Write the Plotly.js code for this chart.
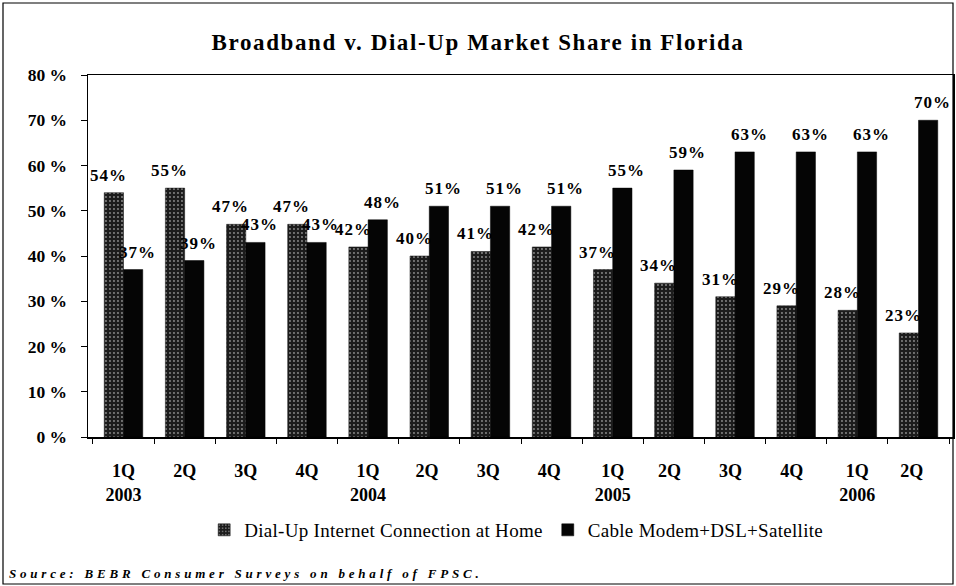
<!DOCTYPE html>
<html>
<head>
<meta charset="utf-8">
<script src="https://cdn.plot.ly/plotly-3.0.1.min.js"></script>
<style>
  html, body { margin: 0; padding: 0; background: #fff; }
  #chart { width: 956px; height: 586px; }
</style>
</head>
<body>
<div id="chart"></div>
<script>
// ---- data ----
const quarters = ["1Q<br>2003", "2Q", "3Q", "4Q", "1Q<br>2004", "2Q ", "3Q ", "4Q ", "1Q<br>2005", "2Q  ", "3Q  ", "4Q  ", "1Q<br>2006", "2Q   "];
const dialUp = [54, 55, 47, 47, 42, 40, 41, 42, 37, 34, 31, 29, 28, 23];
const broadband = [37, 39, 43, 43, 48, 51, 51, 51, 55, 59, 63, 63, 63, 70];
const seriesNames = ["Dial-Up Internet Connection at Home", "Cable Modem+DSL+Satellite"];
const titleText = "Broadband v. Dial-Up Market Share in Florida";
const sourceText = "Source: BEBR Consumer Surveys on behalf of FPSC.";

const SERIF = "Liberation Serif, DejaVu Serif, serif";
const spaced = (s, px) => '<span style="letter-spacing:' + px + 'px">' + s + '</span>';

const traces = [
  {
    type: "bar", name: spaced(seriesNames[0], 0.3), x: quarters, y: dialUp,
    marker: {
      color: "#222",
      line: { color: "#111", width: 0.5 },
      pattern: { shape: ".", bgcolor: "#1c1c1c", fgcolor: "#8c8c8c", size: 4, solidity: 0.18 }
    },
    hoverinfo: "y"
  },
  {
    type: "bar", name: spaced(seriesNames[1], 0.3), x: quarters, y: broadband,
    marker: { color: "#050505", line: { color: "#000", width: 0.5 } },
    hoverinfo: "y"
  }
];

// data labels as annotations built from the arrays
const annotations = [];
dialUp.forEach((v, i) => annotations.push({
  x: i, y: v, xref: "x", yref: "y", text: spaced(v + "%", 1), showarrow: false,
  xanchor: "center", yanchor: "bottom", xshift: -15, yshift: 6,
  font: { family: SERIF, size: 17, color: "#000", weight: "bold" }
}));
broadband.forEach((v, i) => annotations.push({
  x: i, y: v, xref: "x", yref: "y", text: spaced(v + "%", 1), showarrow: false,
  xanchor: "center", yanchor: "bottom", xshift: 14, yshift: 6,
  font: { family: SERIF, size: 17, color: "#000", weight: "bold" }
}));
annotations.push({
  xref: "paper", yref: "paper", x: (7 - 88) / 865, y: (437 - 573) / 362,
  xanchor: "left", yanchor: "middle", showarrow: false,
  text: spaced(sourceText, 3.8),
  font: { family: SERIF, size: 13, color: "#000", weight: "bold", style: "italic" }
});

const px = x => (x - 88) / 865;
const py = y => (437 - y) / 362;

const layout = {
  width: 956, height: 586,
  margin: { l: 88, r: 3, t: 75, b: 149 },
  paper_bgcolor: "#fff", plot_bgcolor: "#fff",
  barmode: "group", bargap: 0.37, bargroupgap: 0,
  title: {
    text: spaced(titleText, 1.6),
    x: 0.5, xref: "container", xanchor: "center", y: 1 - 42 / 586, yanchor: "middle",
    font: { family: SERIF, size: 23, color: "#000", weight: "bold" }
  },
  font: { family: SERIF, color: "#000" },
  xaxis: {
    type: "category", tickson: "boundaries", ticks: "outside", ticklen: 5, tickcolor: "#000",
    showline: true, linecolor: "#000", linewidth: 1.5, mirror: true,
    showgrid: false, ticklabelstandoff: 17,
    tickfont: { family: SERIF, size: 18, color: "#000", weight: "bold" }
  },
  yaxis: {
    range: [0, 80], dtick: 10, ticksuffix: " %", ticks: "outside", ticklen: 6, tickcolor: "#000",
    showline: true, linecolor: "#000", linewidth: 1.5, mirror: true,
    showgrid: false, zeroline: false, ticklabelstandoff: 10,
    tickfont: { family: SERIF, size: 17.5, color: "#000", weight: "bold" }
  },
  showlegend: true,
  legend: {
    orientation: "h", x: 0.495, xanchor: "center", xref: "paper",
    y: py(530), yanchor: "middle",
    font: { family: SERIF, size: 19, color: "#000" },
    itemwidth: 30, tracegroupgap: 0
  },
  annotations: annotations,
  shapes: [
    { type: "rect", xref: "paper", yref: "paper", x0: px(3), x1: px(953), y0: py(584), y1: py(3),
      line: { color: "#000", width: 1.2 }, fillcolor: "rgba(0,0,0,0)", layer: "above" }
  ]
};

Plotly.newPlot("chart", traces, layout, { staticPlot: true, displayModeBar: false });
</script>
</body>
</html>
